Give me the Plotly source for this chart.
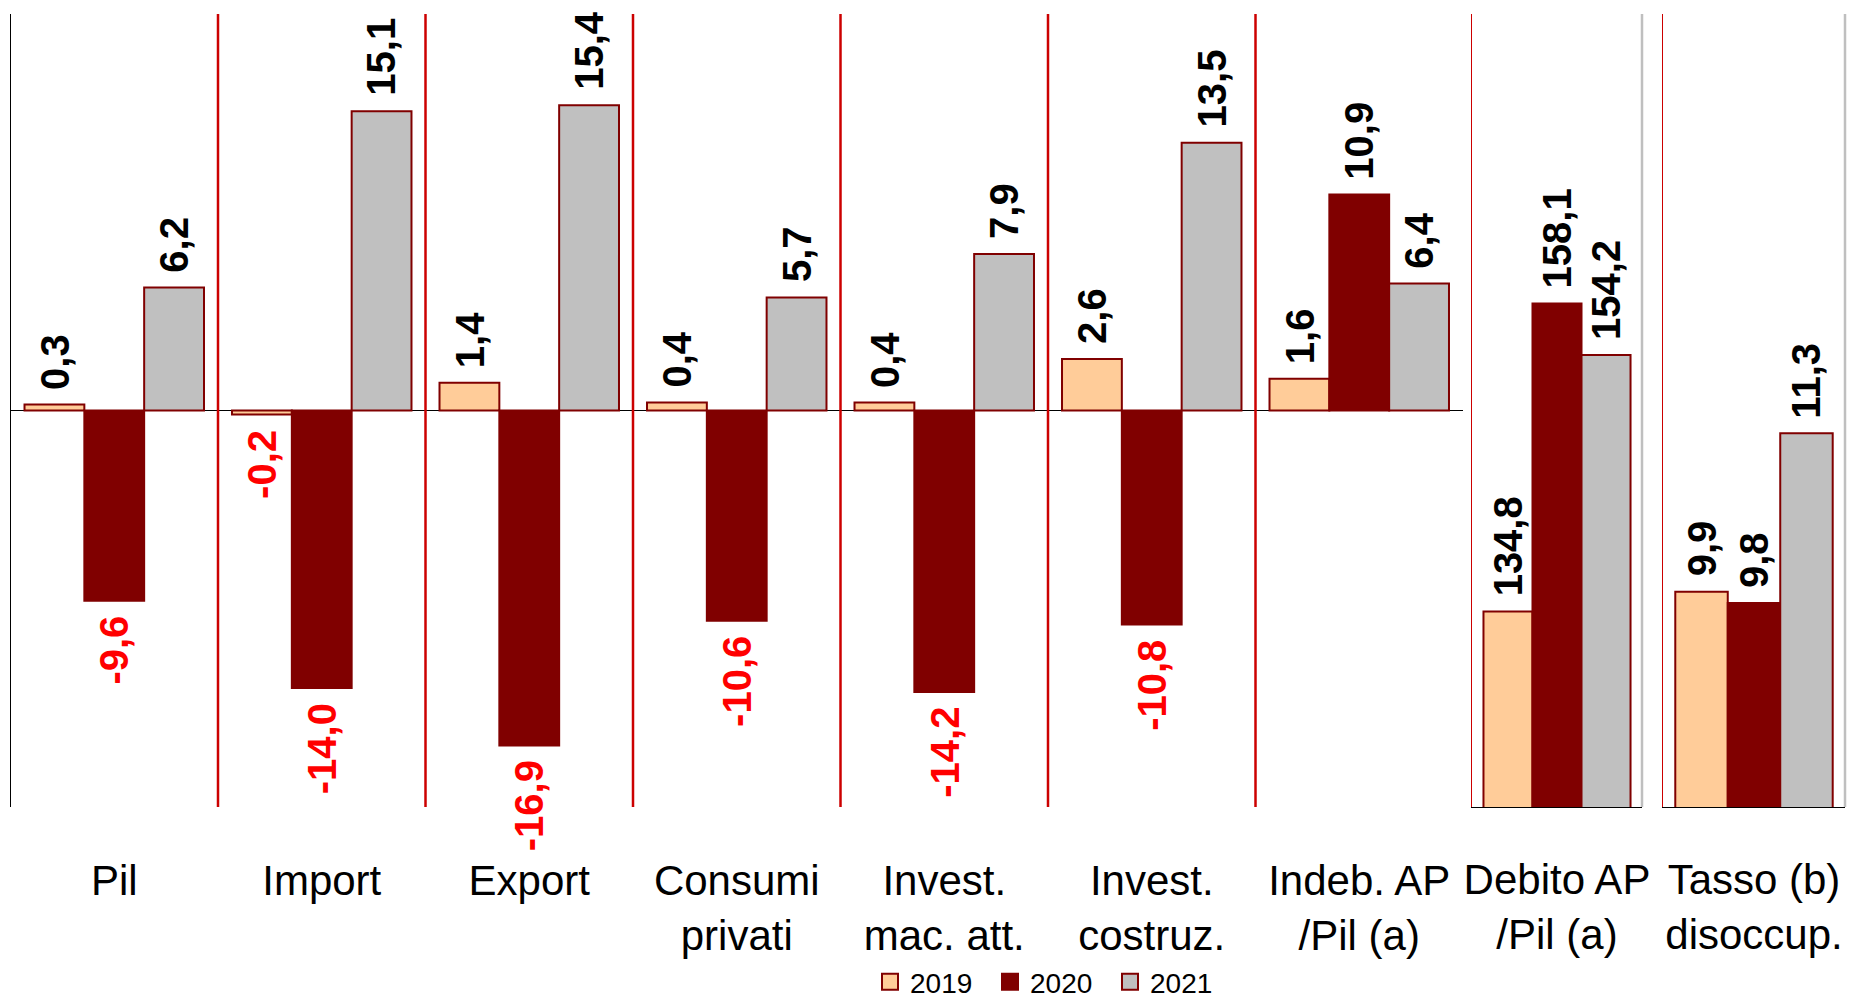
import plotly.graph_objects as go

# ---------------- data ----------------
categories_main = ["Pil", "Import", "Export", "Consumi<br>privati", "Invest.<br>mac. att.",
                   "Invest.<br>costruz.", "Indeb. AP<br>/Pil (a)"]
category_debito = ["Debito AP<br>/Pil (a)"]
category_tasso = ["Tasso (b)<br>disoccup."]
years = ["2019", "2020", "2021"]

main_2019 = [0.3, -0.2, 1.4, 0.4, 0.4, 2.6, 1.6]
main_2020 = [-9.6, -14.0, -16.9, -10.6, -14.2, -10.8, 10.9]
main_2021 = [6.2, 15.1, 15.4, 5.7, 7.9, 13.5, 6.4]
debito_values = [134.8, 158.1, 154.2]   # 2019, 2020, 2021
tasso_values = [9.9, 9.8, 11.3]         # 2019, 2020, 2021

# ---------------- style ----------------
W, H = 1852, 998
fill_colors = ["#FFCC99", "#800000", "#C0C0C0"]
border_color = "#800000"
sep_red = "#CC0000"
FONT = "Liberation Sans, Arial, sans-serif"
BARGAP = 0.135

def px_x(p):
    return p / W

def px_y(p):
    return (H - p) / H

y_dom = [px_y(807), px_y(14)]
x1_dom = [px_x(10.5), px_x(1463)]
x2_dom = [px_x(1472), px_x(1642)]
x3_dom = [px_x(1663), px_x(1845)]

fig = go.Figure()
main_series = [main_2019, main_2020, main_2021]
for k, yr in enumerate(years):
    mk = dict(color=fill_colors[k], line=dict(color=border_color, width=2))
    fig.add_trace(go.Bar(x=categories_main, y=main_series[k], name=yr, marker=mk,
                         xaxis="x", yaxis="y", showlegend=False, legendgroup=yr))
    fig.add_trace(go.Bar(x=category_debito, y=[debito_values[k]], name=yr, marker=mk,
                         xaxis="x2", yaxis="y2", showlegend=False, legendgroup=yr))
    fig.add_trace(go.Bar(x=category_tasso, y=[tasso_values[k]], name=yr, marker=mk,
                         xaxis="x3", yaxis="y3", showlegend=False, legendgroup=yr))
    # legend entry with a larger square key
    fig.add_trace(go.Scatter(x=[None], y=[None], mode="markers", name=yr, legendgroup=yr,
                             marker=dict(symbol="square", size=16, color=fill_colors[k],
                                         line=dict(color=border_color, width=2)),
                             xaxis="x", yaxis="y", showlegend=True))

# ---------------- value labels ----------------
bw = (1 - BARGAP) / 3
annotations = []

def add_label(xref, yref, xpos, v):
    txt = f"{v:.1f}".replace(".", ",")
    pos = v >= 0
    annotations.append(dict(
        x=xpos, y=v, xref=xref, yref=yref, text=txt, showarrow=False,
        textangle=-90, xanchor="center", yanchor="bottom" if pos else "top",
        yshift=13 if pos else -13,
        font=dict(family=FONT, size=40, color="black" if pos else "#FF0000", weight="bold"),
    ))

for k in range(3):
    off = (k - 1) * bw
    for i, v in enumerate(main_series[k]):
        add_label("x", "y", i + off, v)
    add_label("x2", "y2", 0 + off, debito_values[k])
    add_label("x3", "y3", 0 + off, tasso_values[k])

# ---------------- shapes ----------------
shapes = []
# small black ticks on the zero line at group boundaries
for i in range(len(categories_main) - 1):
    shapes.append(dict(type="line", xref="x", yref="y", x0=i + 0.5, x1=i + 0.5,
                       ysizemode="pixel", yanchor=0, y0=0, y1=-13,
                       line=dict(color="black", width=1)))
# red group separators
for i in range(len(categories_main) - 1):
    shapes.append(dict(type="line", xref="x", yref="y domain", x0=i + 0.5, x1=i + 0.5,
                       y0=0, y1=1, line=dict(color=sep_red, width=2.5)))
# grey right borders and left ticks of the side panels
for xr, yr, base in (("x2", "y2", 120), ("x3", "y3", 8)):
    shapes.append(dict(type="line", xref=f"{xr} domain", yref=f"{yr} domain",
                       x0=1, x1=1, y0=0, y1=1, line=dict(color="#BFBFBF", width=2.5)))
    shapes.append(dict(type="line", xref=f"{xr} domain", yref=yr, x0=0, x1=0,
                       ysizemode="pixel", yanchor=base, y0=0, y1=-13,
                       line=dict(color="black", width=1)))

tickfont = dict(family=FONT, size=42, color="black")
common_x = dict(type="category", showgrid=False, zeroline=False, ticks="",
                tickfont=tickfont, fixedrange=True, automargin=False)

fig.update_layout(
    width=W, height=H,
    margin=dict(l=0, r=0, t=0, b=0, pad=0, autoexpand=False),
    paper_bgcolor="white", plot_bgcolor="white",
    barmode="group", bargap=BARGAP, bargroupgap=0,
    font=dict(family=FONT, color="black"),
    xaxis=dict(domain=x1_dom, anchor="y", showline=False, ticklabelstandoff=45, **common_x),
    xaxis2=dict(domain=x2_dom, anchor="y2", showline=True, linecolor="black", linewidth=1,
                ticklabelstandoff=36, **common_x),
    xaxis3=dict(domain=x3_dom, anchor="y3", showline=True, linecolor="black", linewidth=1,
                ticklabelstandoff=36, **common_x),
    yaxis=dict(domain=y_dom, anchor="x", range=[-20, 20], showgrid=False, showticklabels=False,
               ticks="", showline=True, linecolor="black", linewidth=1, automargin=False,
               zeroline=True, zerolinecolor="black", zerolinewidth=1, fixedrange=True),
    yaxis2=dict(domain=y_dom, anchor="x2", range=[120, 180], showgrid=False, showticklabels=False,
                ticks="", showline=True, linecolor=sep_red, linewidth=1, zeroline=False,
                automargin=False, fixedrange=True),
    yaxis3=dict(domain=y_dom, anchor="x3", range=[8, 15], showgrid=False, showticklabels=False,
                ticks="", showline=True, linecolor=sep_red, linewidth=1, zeroline=False,
                automargin=False, fixedrange=True),
    legend=dict(orientation="h", x=px_x(870), xanchor="left", y=px_y(982), yanchor="middle",
                font=dict(family=FONT, size=28, color="black"), entrywidth=75,
                itemsizing="trace", bgcolor="rgba(0,0,0,0)"),
    annotations=annotations,
    shapes=shapes,
    showlegend=True,
)

fig.write_html(
    "out.html",
    config={"displayModeBar": False},
    post_script="document.body.style.margin='0';document.body.style.overflow='hidden';",
)
